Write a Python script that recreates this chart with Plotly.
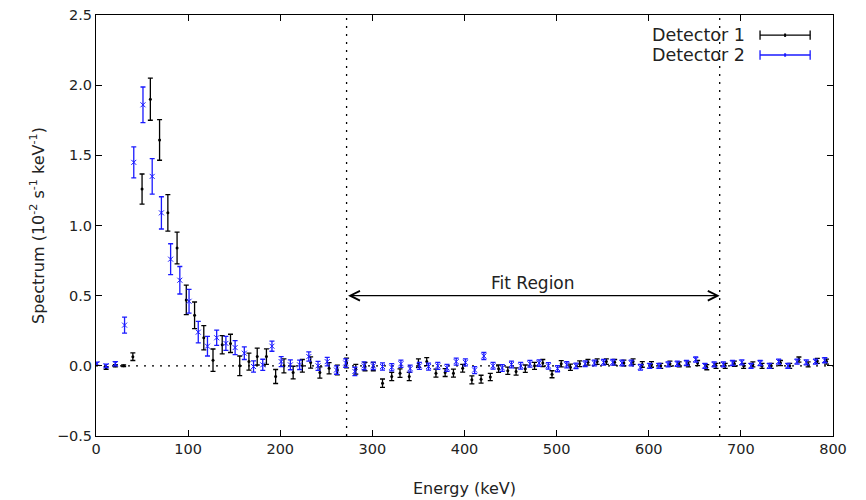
import plotly.graph_objects as go

# ---------------- data ----------------
det1_energy = [11, 21, 30, 40, 50, 59, 69, 78, 88, 98,
               107, 117, 127, 137, 146, 156, 166, 175, 185, 195,
               204, 214, 224, 233, 243, 253, 262, 272, 282, 292,
               301, 311, 321, 330, 340, 350, 359, 369, 379, 388,
               398, 408, 418, 428, 437, 447, 456, 466, 476, 485,
               495, 505, 515, 525, 534, 544, 554, 563, 573, 583,
               593, 603, 613, 623, 633, 643, 653, 663, 673, 683,
               693, 703, 713, 723, 733, 743, 753, 763, 773, 783, 793]
det1_value = [-0.015, 0.0, 0.0, 0.065, 1.26, 1.90, 1.61, 1.09, 0.84, 0.47,
              0.36, 0.20, 0.04, 0.15, 0.16, 0.0, 0.03, 0.066, 0.066, -0.076,
              0.0, -0.048, 0.0, 0.024, -0.048, -0.017, -0.03, 0.02, -0.024, -0.005,
              -0.005, -0.124, -0.076, -0.052, -0.076, 0.02, 0.03, -0.052, -0.048, -0.052,
              -0.017, -0.10, -0.095, -0.08, -0.02, -0.035, -0.04, -0.02, 0.0, 0.02,
              -0.06, 0.015, -0.01, 0.015, 0.025, 0.03, 0.03, 0.025, 0.02, 0.03,
              0.01, 0.01, 0.0, 0.015, 0.01, 0.01, 0.02, -0.01, 0.0, 0.0,
              0.015, 0.0, 0.01, 0.0, 0.0, 0.02, 0.0, 0.045, 0.01, 0.035, 0.03]
det1_error = [0.01, 0.008, 0.006, 0.027, 0.107, 0.15, 0.145, 0.13, 0.113, 0.105,
              0.095, 0.086, 0.08, 0.065, 0.065, 0.07, 0.06, 0.06, 0.055, 0.05,
              0.05, 0.045, 0.045, 0.04, 0.04, 0.04, 0.035, 0.035, 0.035, 0.03,
              0.03, 0.03, 0.03, 0.03, 0.03, 0.03, 0.028, 0.028, 0.028, 0.028,
              0.028, 0.028, 0.028, 0.026, 0.026, 0.026, 0.026, 0.026, 0.025, 0.025,
              0.025, 0.022, 0.022, 0.02, 0.02, 0.02, 0.02, 0.02, 0.02, 0.02,
              0.02, 0.02, 0.018, 0.018, 0.018, 0.018, 0.018, 0.018, 0.018, 0.018,
              0.018, 0.018, 0.018, 0.018, 0.018, 0.018, 0.018, 0.018, 0.018, 0.018, 0.018]

det2_energy = [1, 11, 21, 31, 41, 51, 61, 71, 81, 91,
               101, 111, 121, 131, 141, 151, 161, 171, 181, 191,
               201, 211, 221, 231, 241, 251, 261, 271, 281, 291,
               301, 311, 321, 331, 341, 351, 361, 371, 381, 391,
               401, 411, 421, 431, 441, 451, 461, 471, 481, 491,
               501, 511, 521, 531, 541, 551, 561, 571, 581, 591,
               601, 611, 621, 631, 641, 651, 661, 671, 681, 691,
               701, 711, 721, 731, 741, 751, 761, 771, 781, 791]
det2_value = [0.015, 0.0, 0.015, 0.29, 1.45, 1.86, 1.35, 1.09, 0.76, 0.61,
              0.46, 0.24, 0.14, 0.20, 0.16, 0.13, 0.09, -0.005, 0.007, 0.14,
              0.03, 0.007, 0.007, 0.066, 0.0, 0.03, -0.03, 0.02, -0.04, 0.0,
              0.0, -0.005, -0.01, 0.015, -0.02, 0.0, -0.005, 0.0, -0.015, 0.03,
              0.025, -0.03, 0.07, 0.0, -0.015, 0.01, 0.0, 0.015, 0.02, 0.0,
              -0.02, 0.007, 0.0, 0.015, 0.02, 0.025, 0.025, 0.02, 0.02, -0.01,
              0.0, 0.0, 0.01, 0.015, 0.02, 0.045, 0.0, 0.01, 0.01, 0.02,
              0.025, 0.0, 0.02, 0.0, 0.03, 0.0, 0.03, 0.025, 0.03, 0.04]
det2_error = [0.012, 0.012, 0.015, 0.057, 0.11, 0.127, 0.127, 0.115, 0.11, 0.098,
              0.085, 0.077, 0.07, 0.054, 0.05, 0.05, 0.045, 0.04, 0.04, 0.036,
              0.035, 0.035, 0.033, 0.033, 0.032, 0.03, 0.03, 0.03, 0.03, 0.028,
              0.026, 0.026, 0.026, 0.026, 0.025, 0.025, 0.025, 0.025, 0.025, 0.025,
              0.025, 0.025, 0.025, 0.024, 0.024, 0.024, 0.024, 0.024, 0.023, 0.023,
              0.022, 0.022, 0.02, 0.02, 0.02, 0.02, 0.02, 0.02, 0.02, 0.02,
              0.018, 0.018, 0.018, 0.018, 0.018, 0.018, 0.018, 0.018, 0.018, 0.018,
              0.018, 0.018, 0.018, 0.018, 0.018, 0.018, 0.018, 0.018, 0.018, 0.018]

fit_low, fit_high = 272, 677
series_names = ["Detector 1", "Detector 2"]
x_title = "Energy (keV)"
y_title = "Spectrum (10<sup>-2</sup> s<sup>-1</sup> keV<sup>-1</sup>)"
fit_label = "Fit Region"

# ---------------- figure ----------------
FONT = "DejaVu Sans, Liberation Sans, sans-serif"
TXT = "#222222"
BLUE = "#1a1aff"

fig = go.Figure()
fig.add_trace(go.Scatter(
    x=det1_energy, y=det1_value, mode="markers", name=series_names[0],
    marker=dict(color="black", size=3, symbol="circle"),
    error_y=dict(type="data", array=det1_error, visible=True,
                 color="black", thickness=1.3, width=2.5),
    showlegend=False))
fig.add_trace(go.Scatter(
    x=det2_energy, y=det2_value, mode="markers", name=series_names[1],
    marker=dict(color=BLUE, size=5, symbol="x-thin",
                line=dict(color=BLUE, width=1)),
    error_y=dict(type="data", array=det2_error, visible=True,
                 color=BLUE, thickness=1.3, width=2.5),
    showlegend=False))

dot = dict(color="black", width=1.3, dash="2px,6px")
# zero line
fig.add_shape(type="line", xref="x", yref="y", x0=0, x1=800, y0=0, y1=0,
              line=dot, layer="below")
# fit region boundaries
for xv in (fit_low, fit_high):
    fig.add_shape(type="line", xref="x", yref="paper", x0=xv, x1=xv,
                  y0=0, y1=1, line=dot, layer="below")

# double arrow for fit region
fig.add_annotation(x=fit_high, y=0.5, ax=fit_low, ay=0.5,
                   xref="x", yref="y", axref="x", ayref="y",
                   showarrow=True, arrowhead=5, startarrowhead=5,
                   arrowside="end+start", arrowsize=1.6, startarrowsize=1.6,
                   arrowwidth=1.2, arrowcolor="black", text="")
fig.add_annotation(x=(fit_low + fit_high) / 2, y=0.5, xref="x", yref="y",
                   text=fit_label, showarrow=False, yshift=13,
                   font=dict(family=FONT, size=17, color=TXT))

# custom gnuplot-style legend (text left, error-bar sample right)
leg_rows = [(series_names[0], "black", 0.952), (series_names[1], BLUE, 0.905)]
for name, col, yy in leg_rows:
    fig.add_annotation(x=0.883, y=yy, xref="paper", yref="paper",
                       xanchor="right", yanchor="middle", text=name,
                       showarrow=False,
                       font=dict(family=FONT, size=17.5, color=TXT))
    fig.add_shape(type="line", xref="paper", yref="paper",
                  x0=0.901, x1=0.969, y0=yy, y1=yy,
                  line=dict(color=col, width=1.3))
    for xe in (0.901, 0.969):
        fig.add_shape(type="line", xref="paper", yref="paper",
                      x0=xe, x1=xe, y0=yy - 0.011, y1=yy + 0.011,
                      line=dict(color=col, width=1.3))
    fig.add_shape(type="line", xref="paper", yref="paper",
                  x0=0.935, x1=0.935, y0=yy - 0.004, y1=yy + 0.004,
                  line=dict(color=col, width=2))

axis_common = dict(showline=True, linecolor="black", linewidth=1,
                   mirror="ticks", ticks="inside", ticklen=6,
                   tickcolor="black", showgrid=False, zeroline=False,
                   automargin=False, ticklabeloverflow="allow",
                   tickfont=dict(family=FONT, size=14.5, color=TXT))

# page body has an 8px margin, so the figure is shifted by (8, 8)
fig.update_layout(
    width=858, height=492,
    margin=dict(l=88, r=33, t=7, b=64),
    paper_bgcolor="white", plot_bgcolor="white",
    font=dict(family=FONT, color=TXT),
    xaxis=dict(range=[0, 800], dtick=100, tick0=0,
               title=dict(text=x_title, standoff=26,
                          font=dict(family=FONT, size=16, color=TXT)),
               **axis_common),
    yaxis=dict(range=[-0.5, 2.5], dtick=0.5, tick0=0, tickformat=".1f",
               title=dict(text=y_title, standoff=8,
                          font=dict(family=FONT, size=16, color=TXT)),
               **axis_common),
)

fig.write_html("out.html")
